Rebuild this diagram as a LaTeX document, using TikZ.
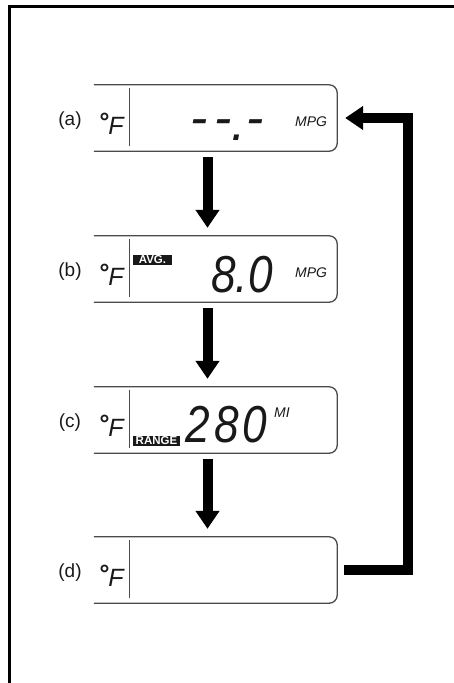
\documentclass[tikz,border=0pt]{standalone}
\usepackage{fontspec}
\setmainfont{Liberation Sans}
\usepackage{tikz}
\usetikzlibrary{arrows.meta, positioning}
\definecolor{panelgray}{RGB}{75,75,75}
\definecolor{lcdblack}{RGB}{25,25,25}

\begin{document}
\begin{tikzpicture}[x=1pt, y=-1pt,
    every node/.style={inner sep=0pt, text=lcdblack},
    panel/.style={minimum width=243pt, minimum height=66pt},
    panelline/.style={panelgray, line width=1.3pt},
    tag/.style={font=\fontsize{19}{19}\selectfont},
    degf/.style={font=\fontsize{25}{25}\selectfont\itshape},
    lcd/.style={anchor=base west, font=\fontsize{52}{52}\selectfont\itshape},
    unit/.style={anchor=west, font=\fontsize{14}{14}\selectfont\itshape},
    badge/.style={fill=lcdblack, text=white, font=\fontsize{11.5}{11.5}\selectfont\bfseries},
    flow/.style={line width=10pt, -{Triangle[width=23pt, length=18pt]}, shorten <=6pt, shorten >=8pt}]
            \useasboundingbox (0,0) rectangle (454,683);
            \draw[black, line width=3pt] (9,683) -- (9,6) -- (454,6);
            \foreach \n/\y in {a/118, b/269, c/420, d/570} {
                \node[panel] (p\n) at (215.5,\y) {};
                \draw[panelline, rounded corners=8pt] (p\n.north west) -- (p\n.north east) -- (p\n.south east) -- (p\n.south west);
                \draw[panelline] ([xshift=36pt, yshift=-3pt]p\n.north west) -- ([xshift=36pt, yshift=5pt]p\n.south west);
                \node[tag] (l\n) at (70,\y+3) {(\n)};
                \node[degf] (f\n) at (111,\y+6) {\raisebox{4pt}{\bfseries°}\normalfont\itshape F};
            }
            \node[lcd] (blank) at (190,140) {\raisebox{5pt}{-}\kern7pt\raisebox{5pt}{-}.\raisebox{5pt}{-}};
            \node[unit] (ua) at (295,122) {MPG};
            \node[badge, minimum width=39pt, minimum height=10.5pt] (avg) at (152.5,260) {AVG.};
            \node[lcd] (avgval) at (211,292) {\scalebox{0.85}[1]{8.0}};
            \node[unit] (ub) at (295,273) {MPG};
            \node[badge, minimum width=47pt, minimum height=10pt] (range) at (156.5,441) {RANGE};
            \node[lcd] (rangeval) at (185,442) {\scalebox{0.85}[1]{2\kern5pt8\kern5pt0}};
            \node[unit] (uc) at (274,413) {MI};
            \draw[flow] ([xshift=-8pt]pa.south) -- ([xshift=-8pt]pb.north);
            \draw[flow] ([xshift=-8pt]pb.south) -- ([xshift=-8pt]pc.north);
            \draw[flow] ([xshift=-8pt]pc.south) -- ([xshift=-8pt]pd.north);
            \draw[flow, shorten <=7pt] (pd.east) -- ++(71pt,0) |- (pa.east);
        \end{tikzpicture}
\end{document}
